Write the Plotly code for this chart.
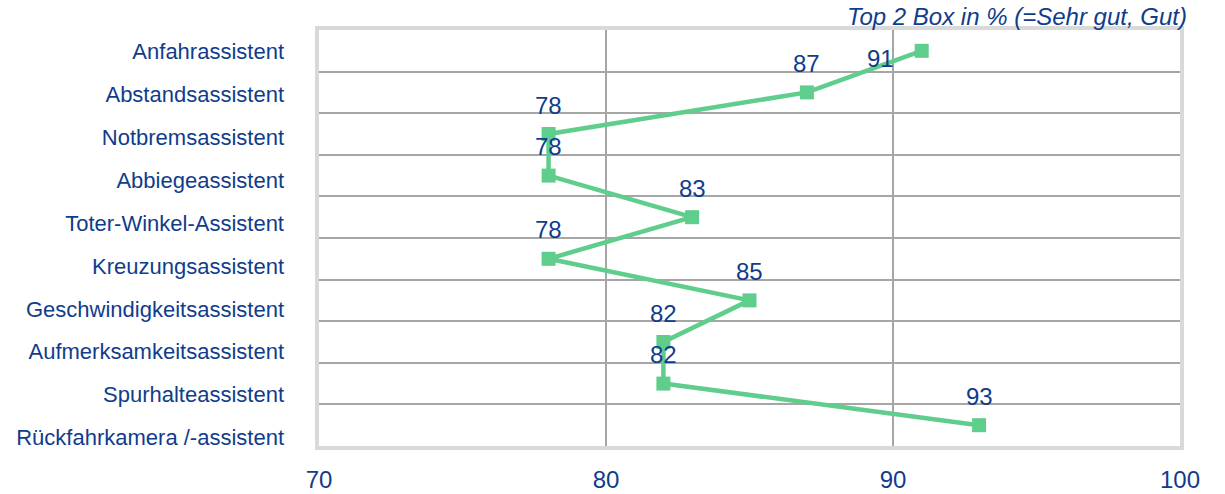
import plotly.graph_objects as go

categories = [
    "Anfahrassistent",
    "Abstandsassistent",
    "Notbremsassistent",
    "Abbiegeassistent",
    "Toter-Winkel-Assistent",
    "Kreuzungsassistent",
    "Geschwindigkeitsassistent",
    "Aufmerksamkeitsassistent",
    "Spurhalteassistent",
    "Rückfahrkamera /-assistent",
]
values = [91, 87, 78, 78, 83, 78, 85, 82, 82, 93]
x_ticks = [70, 80, 90, 100]
note = "Top 2 Box in % (=Sehr gut, Gut)"

BLUE = "#103c8c"
GREEN = "#5fcd8b"
FONT = "Liberation Sans, Arial, sans-serif"

fig = go.Figure()
fig.add_trace(go.Scatter(
    x=values, y=categories, mode="lines+markers",
    line=dict(color=GREEN, width=4.5),
    marker=dict(symbol="square", size=14, color=GREEN),
    hoverinfo="skip", showlegend=False,
))
# invisible trace that carries the category labels on their own axis
fig.add_trace(go.Scatter(
    x=[None] * len(categories), y=categories, mode="markers",
    xaxis="x2", yaxis="y2", showlegend=False, hoverinfo="skip",
    marker=dict(opacity=0),
))

# data labels
for i, (c, v) in enumerate(zip(categories, values)):
    if i == 0:
        xs, ys = -41, -8
    else:
        xs, ys = 0, 29
    fig.add_annotation(x=v, y=c, xref="x", yref="y", text=str(v),
                       showarrow=False, xshift=xs, yshift=ys,
                       font=dict(family=FONT, size=24, color=BLUE))

fig.add_annotation(x=1.0, xref="paper", xanchor="right", xshift=9,
                   y=1.0, yref="paper", yanchor="bottom", yshift=-2,
                   text="<i>" + note + "</i>", showarrow=False,
                   font=dict(family=FONT, size=24, color=BLUE))

fig.update_layout(
    width=1225, height=494,
    margin=dict(l=319, r=45, t=30, b=35, autoexpand=False),
    paper_bgcolor="white", plot_bgcolor="rgba(0,0,0,0)",
    font=dict(family=FONT, color=BLUE),
    xaxis=dict(
        range=[70, 100], tickvals=x_ticks, ticktext=[str(t) for t in x_ticks],
        showgrid=True, gridcolor="#a6a6a6", gridwidth=1.5,
        zeroline=False, showline=True, mirror=True,
        linecolor="#d9d9d9", linewidth=4,
        ticks="", ticklabelstandoff=9, automargin=False,
        tickfont=dict(family=FONT, size=24, color=BLUE),
        anchor="y",
    ),
    yaxis=dict(
        type="category", categoryorder="array", categoryarray=categories,
        range=[len(categories) - 0.5, -0.5],
        domain=[13 / 429, 1.0],
        showgrid=True, gridcolor="#a6a6a6", gridwidth=2,
        tickson="boundaries", showticklabels=False, ticks="",
        zeroline=False, showline=True, mirror=True,
        linecolor="#d9d9d9", linewidth=4, automargin=False,
        anchor="x",
    ),
    xaxis2=dict(domain=[0, 1], anchor="y2", visible=False, range=[70, 100]),
    yaxis2=dict(
        type="category", categoryorder="array", categoryarray=categories,
        range=[len(categories) - 0.5, -0.5], domain=[0, 1],
        anchor="x2", showgrid=False, showline=False, zeroline=False,
        ticks="", ticklabelstandoff=34, automargin=False,
        tickfont=dict(family=FONT, size=22, color=BLUE),
    ),
)

fig.write_html("out.html")
